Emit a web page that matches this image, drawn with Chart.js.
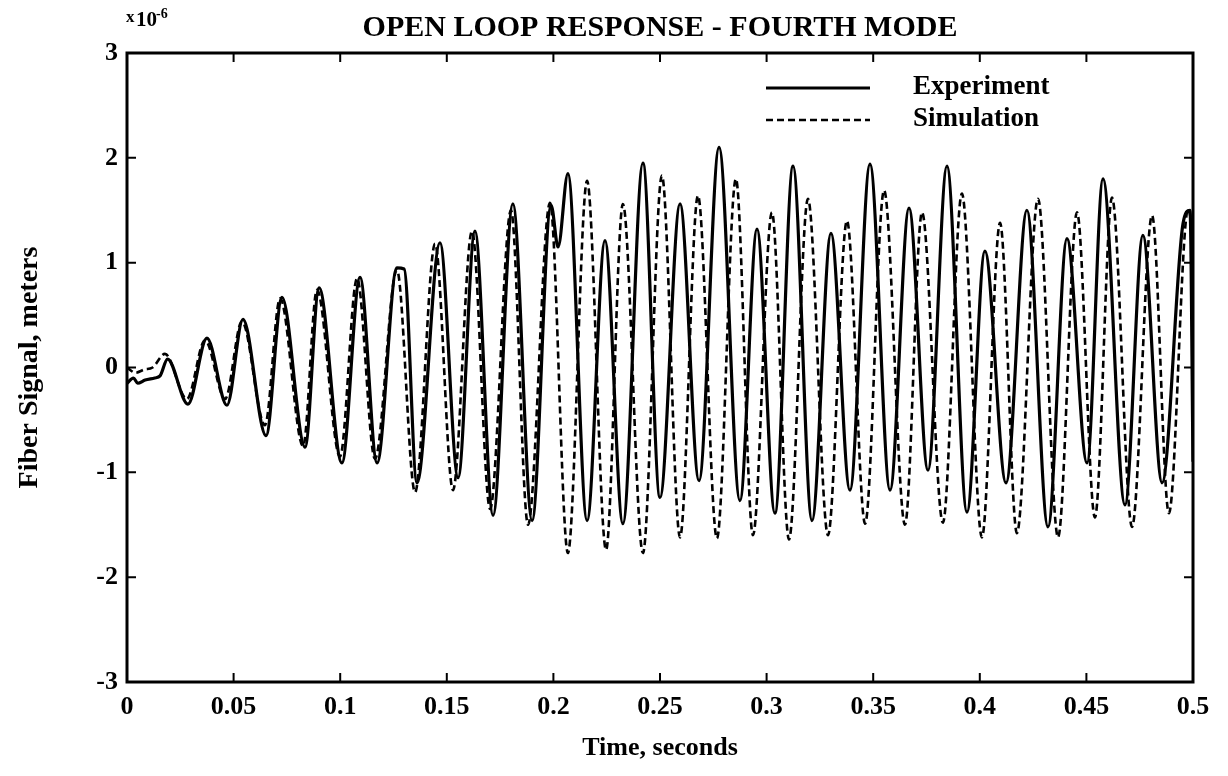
<!DOCTYPE html>
<html lang="en">
<head>
  <meta charset="UTF-8">
  <title>Open Loop Response - Fourth Mode</title>
  <script src="https://cdn.jsdelivr.net/npm/chart.js"></script>
  <style>
    body { margin: 0; background: #fff; }
    #myChart { display: block; }
  </style>
</head>
<body>
  <canvas id="myChart" width="1228" height="776"></canvas>

  <script>
    // values (time in seconds, signal in units of 1e-6 m)
    const expTime = [0, 0.003, 0.005, 0.0085, 0.013, 0.0155, 0.019, 0.0286, 0.0375, 0.0469,
      0.0544, 0.0652, 0.0727, 0.0835, 0.0901, 0.1008, 0.1093, 0.1173, 0.1266, 0.130,
      0.136, 0.1468, 0.1553, 0.1632, 0.1717, 0.181, 0.19, 0.1989, 0.2022, 0.2068,
      0.2158, 0.2242, 0.2326, 0.242, 0.25, 0.2594, 0.2683, 0.2777, 0.2875, 0.2955,
      0.3039, 0.3124, 0.3213, 0.3302, 0.3391, 0.3485, 0.3579, 0.3668, 0.3757, 0.3846,
      0.394, 0.4024, 0.4123, 0.4221, 0.432, 0.4409, 0.4503, 0.4578, 0.4681, 0.4765,
      0.4855, 0.4953, 0.4986, 0.5];
    const expValue = [-0.15, -0.1, -0.15, -0.12, -0.1, -0.08, 0.08, -0.35, 0.28, -0.36,
      0.46, -0.65, 0.67, -0.76, 0.76, -0.91, 0.86, -0.91, 0.95, 0.94,
      -1.1, 1.19, -1.05, 1.3, -1.41, 1.56, -1.46, 1.55, 1.15, 1.85,
      -1.46, 1.21, -1.49, 1.95, -1.24, 1.56, -1.08, 2.1, -1.27, 1.32,
      -1.39, 1.92, -1.46, 1.28, -1.17, 1.94, -1.17, 1.52, -0.98, 1.92,
      -1.38, 1.11, -1.1, 1.5, -1.52, 1.23, -0.91, 1.8, -1.31, 1.26,
      -1.1, 1.37, 1.5, -0.9];

    const simTime = [0, 0.004, 0.008, 0.012, 0.0178, 0.0281, 0.0366, 0.046, 0.0539, 0.0647,
      0.0718, 0.0826, 0.0891, 0.0999, 0.1079, 0.1163, 0.1266, 0.1351, 0.1445, 0.1529,
      0.1618, 0.1703, 0.1801, 0.1881, 0.1984, 0.2068, 0.2158, 0.2247, 0.2326, 0.242,
      0.2509, 0.2594, 0.2678, 0.2767, 0.2856, 0.2936, 0.3025, 0.3105, 0.3194, 0.3288,
      0.3377, 0.3462, 0.3551, 0.3649, 0.3729, 0.3827, 0.3916, 0.401, 0.4095, 0.4174,
      0.4273, 0.4367, 0.4456, 0.454, 0.462, 0.4714, 0.4808, 0.4887, 0.4977, 0.5];
    const simValue = [0, -0.05, -0.02, 0, 0.13, -0.3, 0.26, -0.3, 0.44, -0.55,
      0.66, -0.75, 0.74, -0.85, 0.85, -0.87, 0.93, -1.19, 1.18, -1.17,
      1.3, -1.35, 1.5, -1.5, 1.57, -1.77, 1.78, -1.74, 1.56, -1.77,
      1.83, -1.62, 1.64, -1.63, 1.8, -1.6, 1.48, -1.64, 1.61, -1.6,
      1.4, -1.49, 1.69, -1.5, 1.48, -1.48, 1.66, -1.62, 1.38, -1.58,
      1.61, -1.62, 1.48, -1.43, 1.62, -1.52, 1.45, -1.39, 1.51, 1.3];

    const xTicks = [0, 0.05, 0.1, 0.15, 0.2, 0.25, 0.3, 0.35, 0.4, 0.45, 0.5];
    const xTickLabels = ['0', '0.05', '0.1', '0.15', '0.2', '0.25', '0.3', '0.35', '0.4', '0.45', '0.5'];
    const yTicks = [-3, -2, -1, 0, 1, 2, 3];
    const yTickLabels = ['-3', '-2', '-1', '0', '1', '2', '3'];

    const serif = "'Liberation Serif', 'Times New Roman', serif";

    // box around the plot, inward ticks, legend and the x10^-6 multiplier
    const framePlugin = {
      id: 'frame',
      afterDraw(chart) {
        const { ctx, chartArea: a, scales: { x, y } } = chart;
        ctx.save();
        ctx.strokeStyle = '#000';
        ctx.lineWidth = 3;
        ctx.strokeRect(a.left, a.top, a.right - a.left, a.bottom - a.top);

        ctx.lineWidth = 2;
        ctx.beginPath();
        x.ticks.forEach(t => {
          const px = x.getPixelForValue(t.value);
          ctx.moveTo(px, a.bottom); ctx.lineTo(px, a.bottom - 9);
          ctx.moveTo(px, a.top); ctx.lineTo(px, a.top + 9);
        });
        y.ticks.forEach(t => {
          const py = y.getPixelForValue(t.value);
          ctx.moveTo(a.left, py); ctx.lineTo(a.left + 9, py);
          ctx.moveTo(a.right, py); ctx.lineTo(a.right - 9, py);
        });
        ctx.stroke();

        // legend
        ctx.fillStyle = '#000';
        ctx.font = 'bold 27px ' + serif;
        ctx.textBaseline = 'middle';
        chart.data.datasets.forEach((ds, i) => {
          const ly = a.top + 35 + i * 32;
          ctx.lineWidth = ds.borderWidth;
          ctx.setLineDash(ds.borderDash || []);
          ctx.beginPath();
          ctx.moveTo(766, ly);
          ctx.lineTo(870, ly);
          ctx.stroke();
          ctx.setLineDash([]);
          ctx.fillText(ds.label, 913, ly - 1);
        });

        // exponent label
        ctx.textBaseline = 'alphabetic';
        ctx.font = 'bold 17px ' + serif;
        ctx.fillText('x', 126, 22);
        ctx.font = 'bold 21px ' + serif;
        ctx.fillText('10', 136, 26);
        ctx.font = 'bold 14px ' + serif;
        ctx.fillText('-6', 156, 18);
        ctx.restore();
      }
    };

    function createChart() {
      const ctx = document.getElementById('myChart').getContext('2d');
      new Chart(ctx, {
        type: 'line',
        data: {
          datasets: [{
            label: 'Experiment',
            data: expTime.map((t, i) => ({ x: t, y: expValue[i] })),
            borderColor: '#000',
            borderWidth: 3.2,
            pointRadius: 0,
            cubicInterpolationMode: 'monotone',
          }, {
            label: 'Simulation',
            data: simTime.map((t, i) => ({ x: t, y: simValue[i] })),
            borderColor: '#000',
            borderWidth: 2.6,
            borderDash: [7, 4],
            pointRadius: 0,
            cubicInterpolationMode: 'monotone',
          }],
        },
        options: {
          responsive: false,
          animation: false,
          layout: { padding: { left: 0, right: 35, top: 0, bottom: 0 } },
          plugins: {
            legend: { display: false },
            tooltip: { enabled: false },
            title: {
              display: true,
              text: 'OPEN LOOP RESPONSE - FOURTH MODE',
              color: '#000',
              fullSize: false,
              font: { family: serif, size: 30, weight: 'bold' },
              padding: { top: 10, bottom: 7 },
            },
          },
          scales: {
            x: {
              type: 'linear',
              min: 0,
              max: 0.5,
              afterBuildTicks: scale => { scale.ticks = xTicks.map(v => ({ value: v })); },
              afterFit: scale => { scale.height = 94; },
              grid: { display: false, drawTicks: false },
              border: { display: false },
              ticks: {
                color: '#000',
                padding: 10,
                maxRotation: 0,
                font: { family: serif, size: 26, weight: 'bold' },
                callback: (v, i) => xTickLabels[i],
              },
              title: {
                display: true,
                text: 'Time, seconds',
                color: '#000',
                font: { family: serif, size: 26, weight: 'bold' },
                padding: { top: 0, bottom: 12 },
              },
            },
            y: {
              min: -3,
              max: 3,
              afterBuildTicks: scale => { scale.ticks = yTicks.map(v => ({ value: v })); },
              afterFit: scale => { scale.width = 127; },
              grid: { display: false, drawTicks: false },
              border: { display: false },
              ticks: {
                color: '#000',
                padding: 9,
                font: { family: serif, size: 26, weight: 'bold' },
                callback: (v, i) => yTickLabels[i],
              },
              title: {
                display: true,
                text: 'Fiber Signal, meters',
                color: '#000',
                font: { family: serif, size: 28, weight: 'bold' },
                padding: { top: 13, bottom: 0 },
              },
            },
          },
        },
        plugins: [framePlugin],
      });
    }

    createChart();
  </script>
</body>
</html>
